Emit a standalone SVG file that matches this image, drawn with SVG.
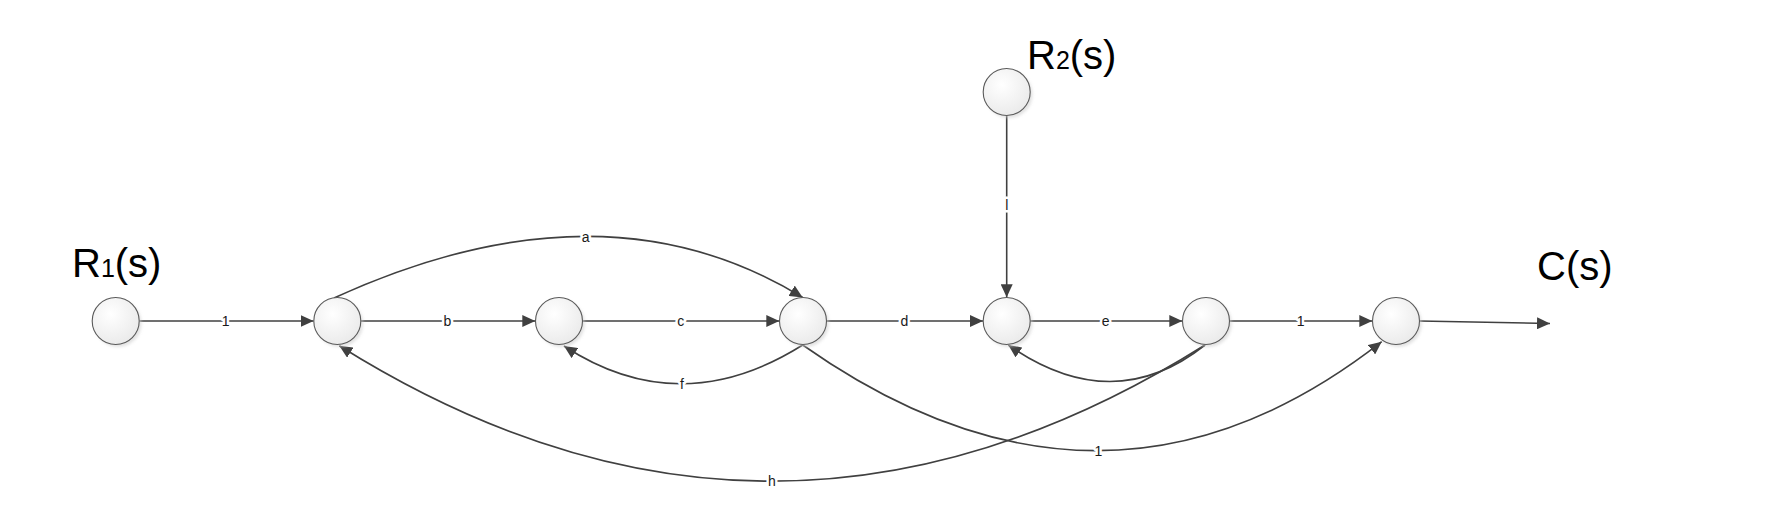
<svg xmlns="http://www.w3.org/2000/svg" width="1780" height="530" viewBox="0 0 1780 530">
<style>
.bg{fill:#ffffff}
.edge{fill:none;stroke:#404040;stroke-width:1.6}
.node{fill:url(#ng);stroke:#5a5a5a;stroke-width:1.1}
.shadow{fill:#cfcfcf;opacity:0.6;filter:url(#blur)}
.lbl{font-family:"Liberation Sans",Arial,sans-serif;font-size:14px;fill:#1a1a1a;text-anchor:middle;dominant-baseline:central;stroke:#ffffff;stroke-width:5;paint-order:stroke;stroke-linejoin:round}
.title{font-family:"Liberation Sans",Arial,sans-serif;font-size:40px;fill:#000000}
</style>
<defs>
<radialGradient id="ng" cx="0.4" cy="0.35" r="0.75">
<stop offset="0" stop-color="#ffffff"/>
<stop offset="1" stop-color="#e8e8e8"/>
</radialGradient>
<filter id="blur" x="-30%" y="-30%" width="160%" height="160%"><feGaussianBlur stdDeviation="1.5"/></filter>
<marker id="arr" markerUnits="userSpaceOnUse" markerWidth="14" markerHeight="12" refX="13" refY="6" orient="auto">
<path d="M0,0 L13,6 L0,12 Z" fill="#404040"/>
</marker>
</defs>
<rect class="bg" x="0" y="0" width="1780" height="530"/>

<g id="connectors">
<path class="edge" d="M139.5,321 H313.6" marker-end="url(#arr)"/>
<path class="edge" d="M360.8,321 H535.3" marker-end="url(#arr)"/>
<path class="edge" d="M582.5,321 H779.3" marker-end="url(#arr)"/>
<path class="edge" d="M826.5,321 H983" marker-end="url(#arr)"/>
<path class="edge" d="M1030.2,321 H1182.3" marker-end="url(#arr)"/>
<path class="edge" d="M1229.5,321 H1372.3" marker-end="url(#arr)"/>
<path class="edge" d="M1419.5,321 L1550,323.5" marker-end="url(#arr)"/>
<path class="edge" d="M1006.7,115.5 V297.3" marker-end="url(#arr)"/>
<path class="edge" d="M334,298 Q603,175 802.7,297.5" marker-end="url(#arr)"/>
<path class="edge" d="M802.7,345 Q680,422 564,346" marker-end="url(#arr)"/>
<path class="edge" d="M1205,345 Q1113,418 1008.3,345" marker-end="url(#arr)"/>
<path class="edge" d="M1205,345 Q772,617 339.3,345.7" marker-end="url(#arr)"/>
<path class="edge" d="M802.7,345 Q1105,558 1381.7,341.7" marker-end="url(#arr)"/>
<text class="lbl" x="225.7" y="321">1</text>
<text class="lbl" x="447.3" y="321">b</text>
<text class="lbl" x="680.7" y="321">c</text>
<text class="lbl" x="904.3" y="321">d</text>
<text class="lbl" x="1105.7" y="321">e</text>
<text class="lbl" x="1300.7" y="321">1</text>
<text class="lbl" x="585.7" y="236.5">a</text>
<text class="lbl" x="682" y="384">f</text>
<text class="lbl" x="772" y="481">h</text>
<text class="lbl" x="1098.5" y="450.5">1</text>
<text class="lbl" x="1006.7" y="205">l</text>
</g>

<g id="n1"><circle class="shadow" cx="118" cy="323.5" r="23.5"/><circle class="node" cx="115.7" cy="321" r="23.5"/></g>
<g id="n2"><circle class="shadow" cx="339.6" cy="323.5" r="23.5"/><circle class="node" cx="337.3" cy="321" r="23.5"/></g>
<g id="n3"><circle class="shadow" cx="561.3" cy="323.5" r="23.5"/><circle class="node" cx="559" cy="321" r="23.5"/></g>
<g id="n4"><circle class="shadow" cx="805.3" cy="323.5" r="23.5"/><circle class="node" cx="803" cy="321" r="23.5"/></g>
<g id="n5"><circle class="shadow" cx="1009" cy="323.5" r="23.5"/><circle class="node" cx="1006.7" cy="321" r="23.5"/></g>
<g id="n6"><circle class="shadow" cx="1208.3" cy="323.5" r="23.5"/><circle class="node" cx="1206" cy="321" r="23.5"/></g>
<g id="n7"><circle class="shadow" cx="1398.3" cy="323.5" r="23.5"/><circle class="node" cx="1396" cy="321" r="23.5"/></g>
<g id="nR2"><circle class="shadow" cx="1009" cy="94.5" r="23.5"/><circle class="node" cx="1006.7" cy="92" r="23.5"/></g>

<g id="titles">
<text class="title" x="72" y="277">R<tspan font-size="25">1</tspan>(s)</text>
<text class="title" x="1027" y="69">R<tspan font-size="25">2</tspan>(s)</text>
<text class="title" x="1537" y="280">C(s)</text>
</g>
</svg>
